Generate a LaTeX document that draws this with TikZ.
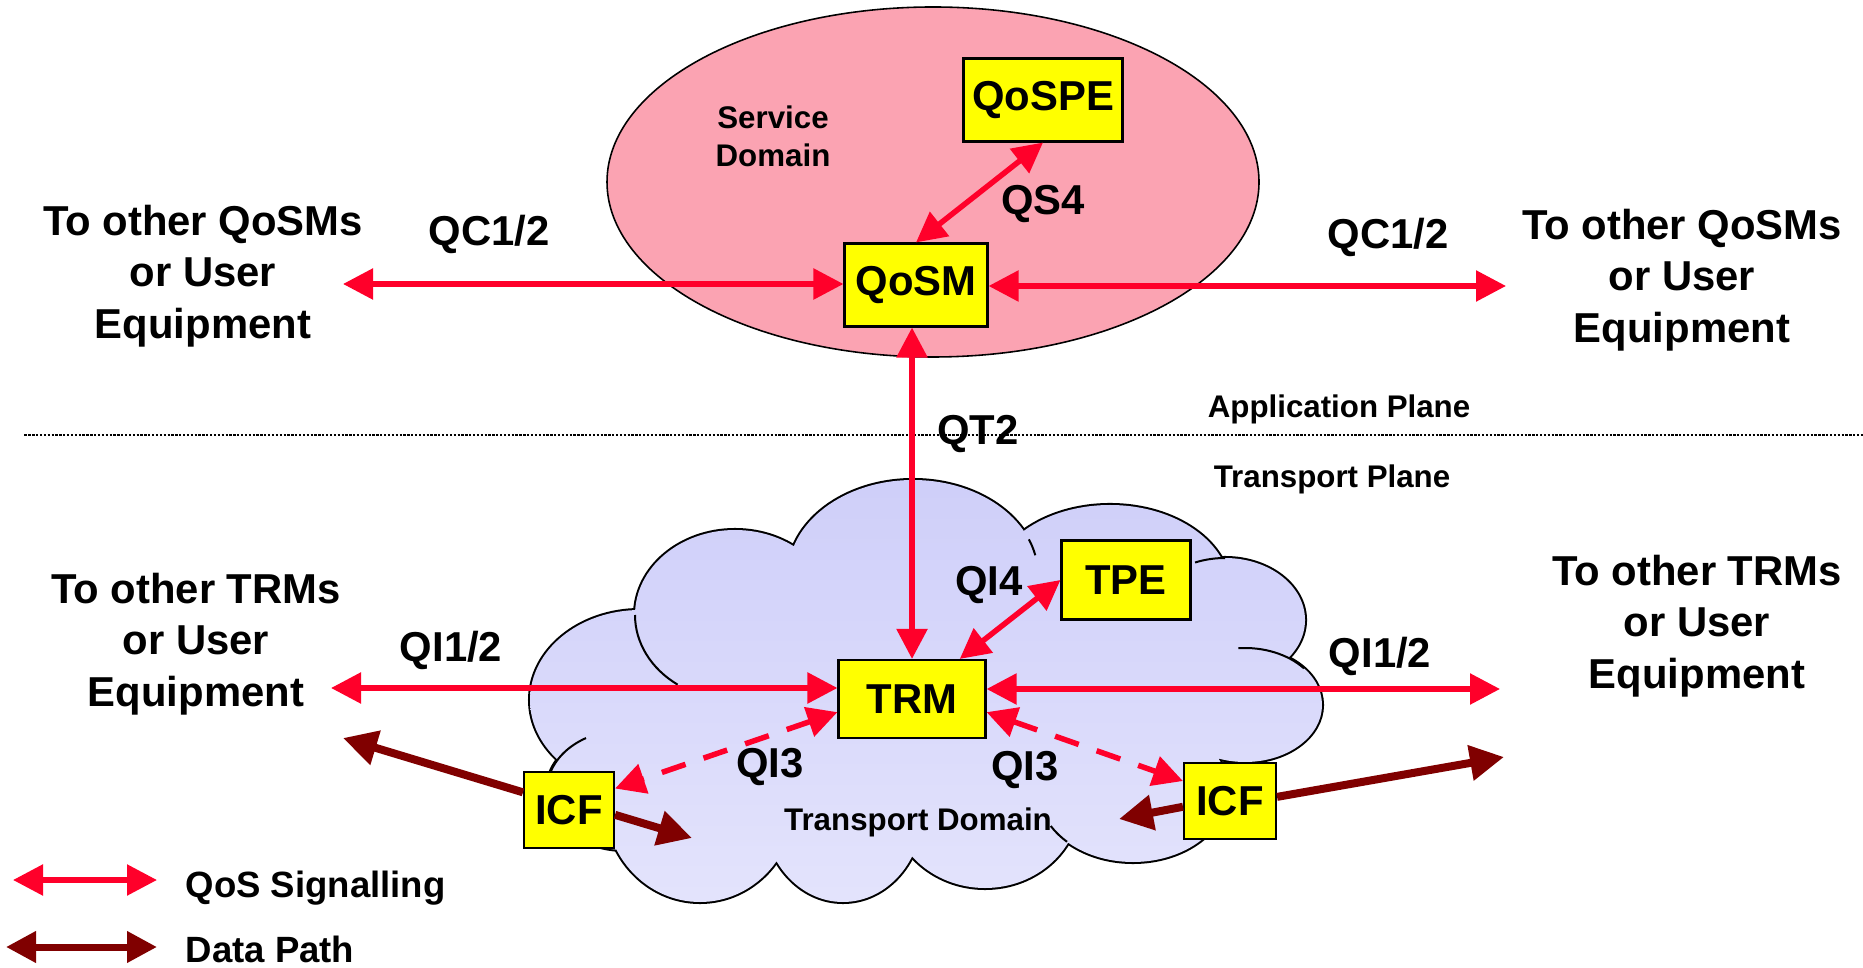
\documentclass[tikz,border=0pt]{standalone}
\usepackage{fontspec}
\setmainfont{Liberation Sans}
\usetikzlibrary{arrows.meta}

\definecolor{sigred}{RGB}{255,0,42}
\definecolor{datared}{RGB}{128,0,0}
\definecolor{boxyellow}{RGB}{255,255,0}
\definecolor{svcpink}{RGB}{251,163,178}
\definecolor{cloudtop}{RGB}{206,206,249}
\definecolor{cloudbot}{RGB}{228,228,252}

% bumps of the transport cloud: x/y/x radius/y radius
\newcommand{\cloudbumps}{9.13/3.92/1.25/0.95, 11.10/3.77/1.20/0.85, 12.25/3.47/0.80/0.62,
  12.45/2.62/0.77/0.57, 11.33/1.77/0.95/0.72, 9.85/1.67/0.95/0.88, 8.43/1.57/0.80/0.92,
  7.00/1.65/0.95/1.00, 6.25/1.77/0.78/0.60, 6.40/2.67/1.10/0.90, 7.35/3.52/1.00/0.85}

\begin{document}
\begin{tikzpicture}[x=1cm,y=1cm,
  bigtxt/.style={font=\fontsize{11.9}{14.65}\selectfont\bfseries, inner sep=0pt, align=center},
  smalltxt/.style={font=\fontsize{8.9}{10.8}\selectfont\bfseries, inner sep=0pt, align=center},
  legtxt/.style={font=\fontsize{10.4}{12}\selectfont\bfseries, inner sep=0pt},
  fbox/.style={draw=black, line width=0.6pt, fill=boxyellow, inner sep=0pt, font=\fontsize{11.9}{14}\selectfont\bfseries},
  sig/.style={draw=sigred, line width=0.55mm, {Triangle[length=3mm,width=3mm]}-{Triangle[length=3mm,width=3mm]}},
  sigdash/.style={sig, dash pattern=on 2.5mm off 1.9mm},
  data/.style={draw=datared, line width=0.8mm, -{Triangle[length=3.4mm,width=3.4mm]}},
  datalegend/.style={draw=datared, line width=0.7mm, {Triangle[length=3mm,width=3mm]}-{Triangle[length=3mm,width=3mm]}}]
  \useasboundingbox (0,0) rectangle (18.63,9.67);

  % Service domain
  \draw[fill=svcpink, line width=0.45pt] (9.33,7.85) ellipse [x radius=3.26, y radius=1.75];

  % Transport cloud: thick outlines first, the shaded fill then hides their inner halves
  \foreach \cx/\cy/\rx/\ry in \cloudbumps
    \draw[line width=1.15pt] (\cx,\cy) ellipse [x radius=\rx, y radius=\ry];
  \begin{scope}
    \clip (9.25,2.47) ellipse [x radius=3.0, y radius=1.3]
      \foreach \cx/\cy/\rx/\ry in \cloudbumps {(\cx,\cy) ellipse [x radius=\rx, y radius=\ry]};
    \shade[top color=cloudtop, bottom color=cloudbot] (5.2,0.5) rectangle (13.5,5.0);
  \end{scope}
  % inner arcs left showing between the bumps
  \foreach \cx/\cy/\rx/\ry/\a/\b in {7.35/3.52/1.00/0.85/180/235, 6.25/1.77/0.78/0.60/165/120,
      12.45/2.62/0.77/0.57/95/40, 12.25/3.47/0.80/0.62/90/112, 9.13/3.92/1.25/0.95/22/12,
      11.33/1.77/0.95/0.72/226/210}
    \draw[line width=0.57pt] ({\cx+\rx*cos(\a)},{\cy+\ry*sin(\a)})
      arc[start angle=\a, end angle=\b, x radius=\rx, y radius=\ry];

  % Plane separator
  \draw[line width=0.65pt, dash pattern=on 0.65pt off 0.45pt] (0.245,5.32) -- (18.63,5.32);

  % Functional entities
  \node[fbox, minimum width=1.59cm, minimum height=0.83cm] (qospe) at (10.43,8.67) {QoSPE};
  \node[fbox, minimum width=1.43cm, minimum height=0.83cm] (qosm) at (9.16,6.82) {QoSM};
  \node[fbox, minimum width=1.47cm, minimum height=0.78cm] (trm) at (9.12,2.68) {TRM};
  \node[fbox, minimum width=1.29cm, minimum height=0.79cm] (tpe) at (11.26,3.87) {TPE};
  \node[fbox, minimum width=0.90cm, minimum height=0.76cm] (icfL) at (5.69,1.57) {ICF};
  \node[fbox, minimum width=0.92cm, minimum height=0.76cm] (icfR) at (12.30,1.66) {ICF};

  % Free ends of the outer interfaces
  \coordinate (qcLend) at (3.43,6.83);
  \coordinate (qcRend) at (15.06,6.81);
  \coordinate (qiLend) at (3.31,2.79);
  \coordinate (qiRend) at (15.00,2.78);
  \coordinate (dpLout) at (3.43,2.29);
  \coordinate (dpLin) at (6.92,1.29);
  \coordinate (dpRout) at (15.04,2.10);
  \coordinate (dpRin) at (11.19,1.48);

  % QoS signalling
  \draw[sig] (qcLend) -- (qcLend -| qosm.west);
  \draw[sig] (qcRend -| qosm.east) -- (qcRend);
  \draw[sig] (qosm.north) -- (qospe.south);
  \draw[sig] (qosm.south -| trm.north) -- (trm.north);
  \draw[sig] (qiLend) -- (qiLend -| trm.west);
  \draw[sig] (qiRend -| trm.east) -- (qiRend);
  \draw[sig] (trm.40) -- (tpe.west);
  \draw[sigdash] (trm.190) -- (icfL.25);
  \draw[sigdash] (trm.-10) -- (icfR.157);

  % Data path through the ICFs
  \draw[data] (icfL.159) -- (dpLout);
  \draw[data] (icfL.-6) -- (dpLin);
  \draw[data] (icfR.5) -- (dpRout);
  \draw[data] (icfR.187) -- (dpRin);

  % Labels
  \node[smalltxt] (svcdom) at (7.73,8.31) {Service\\Domain};
  \node[bigtxt] (qs4) at (10.43,7.63) {QS4};
  \node[bigtxt] (qcL) at (4.89,7.33) {QC1/2};
  \node[bigtxt] (qcR) at (13.88,7.30) {QC1/2};
  \node[bigtxt] (toqosmL) at (2.03,6.91) {To other QoSMs\\or User\\Equipment};
  \node[bigtxt] (toqosmR) at (16.82,6.87) {To other QoSMs\\or User\\Equipment};
  \node[bigtxt] (qt2) at (9.78,5.33) {QT2};
  \node[smalltxt, anchor=base] (applane) at (13.39,5.49) {Application Plane};
  \node[smalltxt, anchor=base] (trplane) at (13.32,4.79) {Transport Plane};
  \node[bigtxt] (totrmL) at (1.96,3.23) {To other TRMs\\or User\\Equipment};
  \node[bigtxt] (totrmR) at (16.97,3.41) {To other TRMs\\or User\\Equipment};
  \node[bigtxt] (qi12L) at (4.51,3.17) {QI1/2};
  \node[bigtxt] (qi12R) at (13.80,3.11) {QI1/2};
  \node[bigtxt] (qi4) at (9.89,3.82) {QI4};
  \node[bigtxt] (qi3L) at (7.70,2.00) {QI3};
  \node[bigtxt] (qi3R) at (10.25,1.97) {QI3};
  \node[smalltxt, anchor=base] (trdom) at (9.18,1.37) {Transport Domain};

  % Legend
  \coordinate (sigA) at (0.13,0.87);
  \coordinate (sigB) at (1.57,0.87);
  \coordinate (dataA) at (0.06,0.20);
  \coordinate (dataB) at (1.57,0.20);
  \draw[sig] (sigA) -- (sigB);
  \draw[datalegend] (dataA) -- (dataB);
  \node[legtxt, anchor=base west] (sigtxt) at (1.85,0.70) {QoS Signalling};
  \node[legtxt, anchor=base west] (datatxt) at (1.85,0.05) {Data Path};
\end{tikzpicture}
\end{document}
